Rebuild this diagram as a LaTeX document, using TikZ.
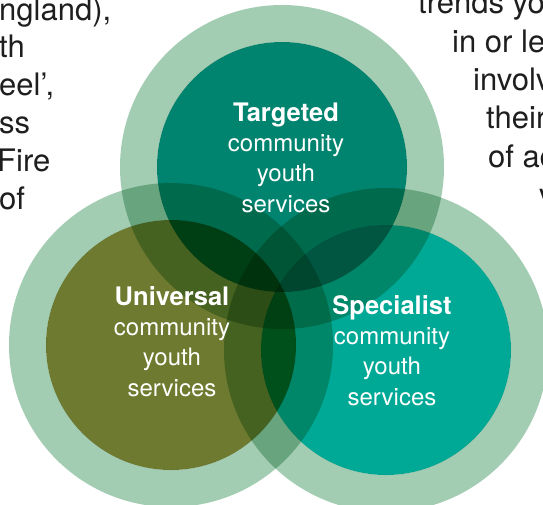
\documentclass[tikz,border=0pt]{standalone}
\usepackage{fontspec}
\setmainfont{TeX Gyre Heros}
\usepackage{tikz}
\usetikzlibrary{positioning}

\definecolor{ringgreen}{RGB}{163,205,179}
\definecolor{targetedteal}{RGB}{0,132,111}
\definecolor{universalolive}{RGB}{110,122,47}
\definecolor{specialistteal}{RGB}{0,168,150}
\definecolor{bodytext}{RGB}{30,30,30}

\begin{document}
\begin{tikzpicture}[
  x=1pt,y=-1pt,
  ring/.style={fill=ringgreen,even odd rule,blend mode=multiply},
  core/.style={circle,inner sep=0pt,minimum size=250pt,blend mode=multiply},
  circletext/.style={align=center,text=white,inner sep=0pt,anchor=base,
    font=\fontsize{24}{30.3}\selectfont},
  sidetext/.style={text=bodytext,inner sep=0pt,anchor=base west,
    font=\fontsize{31}{37.8}\selectfont}
  ]
  \useasboundingbox (0,0) rectangle (543,504);
  \clip (0,0) rectangle (543,504);
  \node (targetedcore)   [core,fill=targetedteal]   at (282,167) {};
  \node (universalcore)  [core,fill=universalolive] at (171,345) {};
  \node (specialistcore) [core,fill=specialistteal] at (386,350) {};
  \fill [ring] (targetedcore.center) circle [radius=162pt] circle [radius=125pt];
  \fill [ring] (universalcore.center) circle [radius=162pt] circle [radius=125pt];
  \fill [ring] (specialistcore.center) circle [radius=162pt] circle [radius=125pt];
  \node (targeted)   [circletext] at (286,212)
    {{\fontsize{25.5}{30.3}\selectfont\bfseries Targeted}\\community\\youth\\services};
  \node (universal)  [circletext] at (172,396)
    {{\fontsize{25.5}{30.3}\selectfont\bfseries Universal}\\community\\youth\\services};
  \node (specialist) [circletext] at (392,405)
    {{\fontsize{25.5}{30.3}\selectfont\bfseries Specialist}\\community\\youth\\services};
  \node (leftone)   [sidetext] at (-1,20)  {ngland),};
  \node (lefttwo)   [sidetext] at (-1,57)  {th};
  \node (leftthree) [sidetext] at (-1,95)  {eel',};
  \node (leftfour)  [sidetext] at (-1,133) {ss};
  \node (leftfive)  [sidetext] at (-3,171) {Fire};
  \node (leftsix)   [sidetext] at (-1,209) {of};
  \node (rightone)   [sidetext] at (418,13)  {trends yo};
  \node (righttwo)   [sidetext] at (452,52)  {in or le};
  \node (rightthree) [sidetext] at (473,90)  {involv};
  \node (rightfour)  [sidetext] at (486,128) {their};
  \node (rightfive)  [sidetext] at (488,167) {of ac};
  \node (rightsix)   [sidetext] at (539,205) {v};
\end{tikzpicture}
\end{document}
